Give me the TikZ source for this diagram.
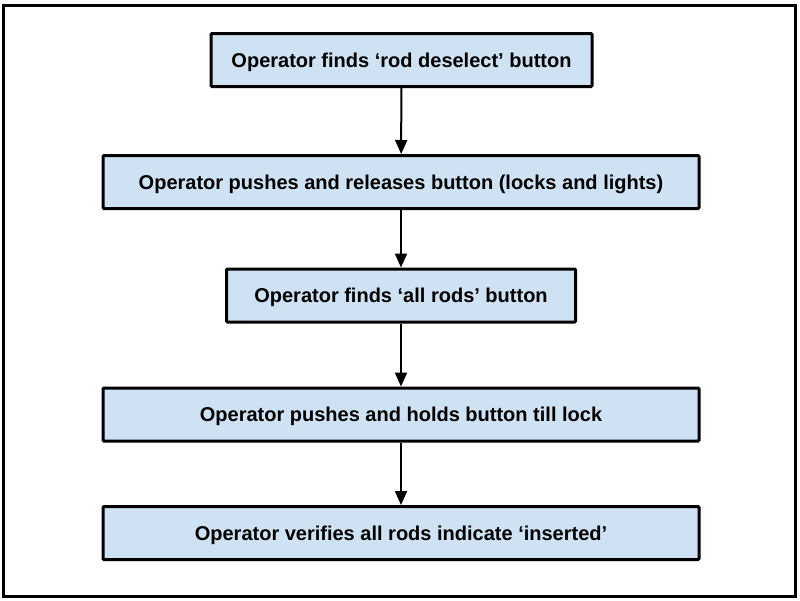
\documentclass[tikz,border=0pt]{standalone}
\usepackage{fontspec}
\setmainfont{Liberation Sans}
\usetikzlibrary{arrows.meta}
\definecolor{stepfill}{HTML}{CFE2F3}
\begin{document}
\begin{tikzpicture}[x=1pt,y=-1pt,
  stepbox/.style={draw=black,line width=3pt,fill=stepfill,rounded corners=1pt,
    minimum height=53pt,inner sep=0pt,text height=14pt,text depth=0pt,
    font=\bfseries\fontsize{20}{24}\selectfont},
  flow/.style={line width=2pt,-{Triangle[length=14pt,width=12pt]}}]
\useasboundingbox (0,0) rectangle (800,600);
\draw[line width=3pt] (3.5,5) rectangle (795.5,596.5);
\node[stepbox,minimum width=381pt] (s1) at (401.5,60) {Operator finds ‘rod deselect’ button};
\node[stepbox,minimum width=596pt] (s2) at (401,182) {Operator pushes and releases button (locks and lights)};
\node[stepbox,minimum width=349pt] (s3) at (401,295.5) {Operator finds ‘all rods’ button};
\node[stepbox,minimum width=596pt] (s4) at (401,414.5) {Operator pushes and holds button till lock};
\node[stepbox,minimum width=596pt] (s5) at (401,533) {Operator verifies all rods indicate ‘inserted’};
\draw[flow] (s1) -- (s2);
\draw[flow] (s2) -- (s3);
\draw[flow] (s3) -- (s4);
\draw[flow] (s4) -- (s5);
\end{tikzpicture}
\end{document}
